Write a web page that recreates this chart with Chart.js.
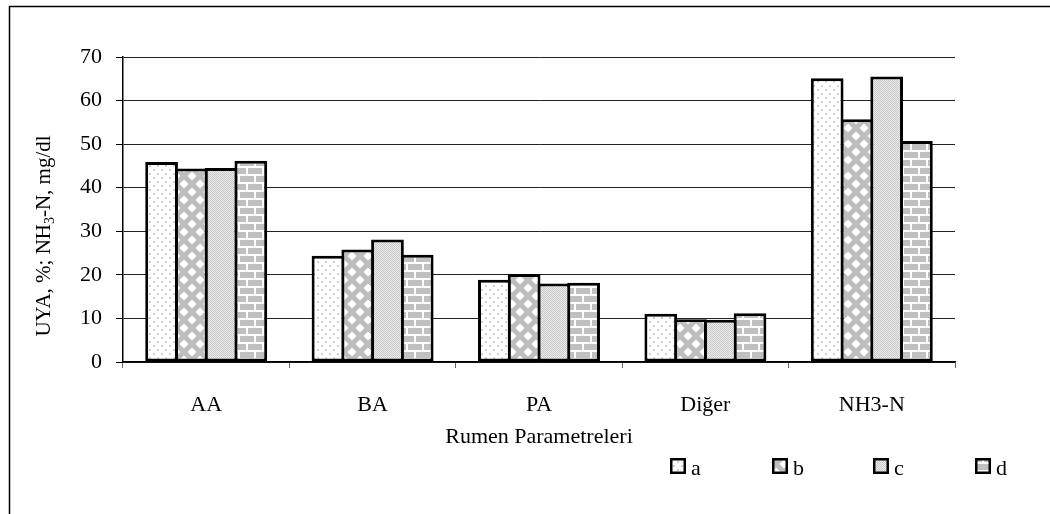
<!DOCTYPE html>
<html>
<head>
<meta charset="utf-8">
<script src="https://cdn.jsdelivr.net/npm/chart.js@4.4.1/dist/chart.umd.min.js"></script>
<style>
  html, body { margin: 0; padding: 0; background: #fff; }
  #wrap { width: 1050px; height: 514px; position: relative; }
</style>
</head>
<body>
<div id="wrap"><canvas id="chart" width="1050" height="514"></canvas></div>
<script>
// veriler
const categories = ['AA', 'BA', 'PA', 'Diğer', 'NH3-N'];
const seriesNames = ['a', 'b', 'c', 'd'];
const valuesA = [45.9, 24.4, 18.9, 11.1, 65.1];
const valuesB = [44.4, 25.8, 20.2, 9.8, 55.7];
const valuesC = [44.5, 28.1, 18.0, 9.7, 65.5];
const valuesD = [46.2, 24.6, 18.2, 11.2, 50.7];
const yTicks = [0, 10, 20, 30, 40, 50, 60, 70];

const FONT = "'Liberation Serif', 'Times New Roman', serif";

// desen oluşturma
function makeTile(w, h, draw) {
    const c = document.createElement('canvas');
    c.width = w; c.height = h;
    const g = c.getContext('2d');
    draw(g);
    return document.getElementById('chart').getContext('2d').createPattern(c, 'repeat');
}

// a: beyaz zemin üzerinde gri noktalar
const patA = makeTile(8, 8, g => {
    g.fillStyle = '#fff'; g.fillRect(0, 0, 8, 8);
    g.fillStyle = '#d0d0d0';
    g.fillRect(1, 1, 2, 2);
    g.fillRect(5, 5, 2, 2);
});
// b: gri zemin üzerinde beyaz karolar
const patB = makeTile(16, 16, g => {
    g.fillStyle = '#bebebe'; g.fillRect(0, 0, 16, 16);
    g.fillStyle = '#fff';
    const diamond = (cx, cy, r) => {
        g.beginPath();
        g.moveTo(cx, cy - r); g.lineTo(cx + r, cy); g.lineTo(cx, cy + r); g.lineTo(cx - r, cy);
        g.closePath(); g.fill();
    };
    diamond(8, 8, 4.5);
    diamond(0, 0, 4.5); diamond(16, 0, 4.5); diamond(0, 16, 4.5); diamond(16, 16, 4.5);
});
// c: ince dama deseni
const patC = makeTile(4, 4, g => {
    g.fillStyle = '#ececec'; g.fillRect(0, 0, 4, 4);
    g.fillStyle = '#c8c8c8';
    g.fillRect(0, 0, 1, 1); g.fillRect(2, 0, 1, 1);
    g.fillRect(1, 1, 1, 1); g.fillRect(3, 1, 1, 1);
    g.fillRect(0, 2, 1, 1); g.fillRect(2, 2, 1, 1);
    g.fillRect(1, 3, 1, 1); g.fillRect(3, 3, 1, 1);
});
// d: tuğla deseni
const patD = makeTile(16, 16, g => {
    g.fillStyle = '#fff'; g.fillRect(0, 0, 16, 16);
    g.fillStyle = '#c0c0c0';
    g.fillRect(0, 0, 14, 6);
    g.fillRect(8, 8, 8, 6);
    g.fillRect(0, 8, 6, 6);
});

const patterns = [patA, patB, patC, patD];
const seriesValues = [valuesA, valuesB, valuesC, valuesD];

// dış çerçeve, y ekseni başlığı ve gösterge
const extras = {
    id: 'extras',
    afterDraw(chart) {
        const ctx = chart.ctx;
        ctx.save();
        // çerçeve
        ctx.strokeStyle = '#000';
        ctx.lineWidth = 1.5;
        ctx.beginPath();
        ctx.moveTo(9.5, 514); ctx.lineTo(9.5, 6.5); ctx.lineTo(1050, 6.5);
        ctx.stroke();

        // y ekseni başlığı (alt simge ile)
        ctx.translate(44, 236);
        ctx.rotate(-Math.PI / 2);
        ctx.fillStyle = '#000';
        ctx.textBaseline = 'middle';
        const big = '21px ' + FONT, small = '14px ' + FONT;
        const parts = [['UYA, %; NH', big, 0], ['3', small, 6], ['-N, mg/dl', big, 0]];
        let total = 0;
        parts.forEach(p => { ctx.font = p[1]; total += ctx.measureText(p[0]).width; });
        let x = -total / 2;
        parts.forEach(p => {
            ctx.font = p[1];
            ctx.fillText(p[0], x, p[2]);
            x += ctx.measureText(p[0]).width;
        });
        ctx.restore();

        // gösterge
        ctx.save();
        const legendX = [670, 772, 873, 975];
        ctx.font = '22px ' + FONT;
        ctx.textBaseline = 'alphabetic';
        chart.data.datasets.forEach((ds, i) => {
            const bx = legendX[i], by = 458;
            ctx.fillStyle = ds.backgroundColor;
            ctx.fillRect(bx, by, 16, 16);
            ctx.strokeStyle = '#000';
            ctx.lineWidth = 2.5;
            ctx.strokeRect(bx + 1.25, by + 1.25, 13.5, 13.5);
            ctx.fillStyle = '#000';
            ctx.fillText(ds.label, bx + 21, by + 17);
        });
        ctx.restore();
    }
};

new Chart(document.getElementById('chart'), {
    type: 'bar',
    data: {
        labels: categories,
        datasets: seriesNames.map((name, i) => ({
            label: name,
            data: seriesValues[i],
            backgroundColor: patterns[i],
            borderColor: '#000',
            borderWidth: 3,
            borderSkipped: false,
            barPercentage: 1.1,
            categoryPercentage: 0.715
        }))
    },
    options: {
        responsive: false,
        animation: false,
        devicePixelRatio: 1,
        layout: { padding: { top: 57, right: 95, left: 0, bottom: 0 } },
        plugins: {
            legend: { display: false },
            tooltip: { enabled: false }
        },
        scales: {
            x: {
                grid: {
                    offset: true,
                    drawOnChartArea: false,
                    drawTicks: true,
                    tickLength: 6,
                    color: '#000',
                    tickColor: '#666'
                },
                border: { color: '#000', width: 1.5 },
                ticks: {
                    color: '#000',
                    font: { family: FONT, size: 22 },
                    padding: 24,
                    maxRotation: 0
                },
                title: {
                    display: true,
                    text: 'Rumen Parametreleri',
                    color: '#000',
                    font: { family: FONT, size: 22 },
                    padding: { top: 64, bottom: 64 }
                },
                afterFit(scale) { scale.height = 152; }
            },
            y: {
                min: 0,
                max: 70,
                afterBuildTicks(scale) { scale.ticks = yTicks.map(v => ({ value: v })); },
                grid: {
                    color: '#222',
                    lineWidth: 1,
                    drawTicks: true,
                    tickLength: 7,
                    tickColor: '#000'
                },
                border: { color: '#000', width: 1.5 },
                ticks: {
                    color: '#000',
                    font: { family: FONT, size: 22 },
                    padding: 14
                },
                afterFit(scale) { scale.width = 123; }
            }
        }
    },
    plugins: [extras]
});
</script>
</body>
</html>
